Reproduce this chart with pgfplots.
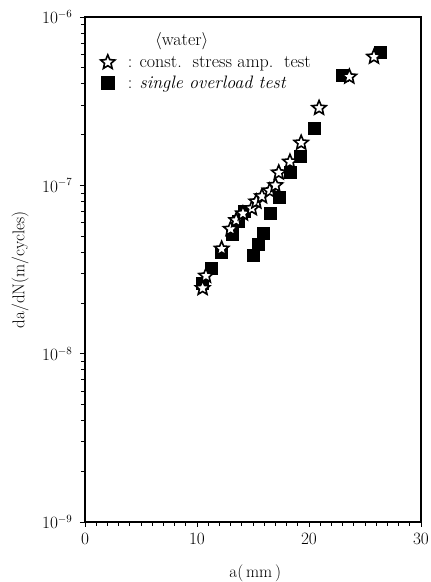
\documentclass[border=0pt]{standalone}
\usepackage{fontspec}
\usepackage{pgfplots}
\pgfplotsset{compat=1.18}
\usetikzlibrary{calc}
\pgfdeclareplotmark{ostar}{%
  \pgfpathmoveto{\pgfpointpolar{90}{\pgfplotmarksize}}%
  \pgfpathlineto{\pgfpointpolar{126}{0.45\pgfplotmarksize}}%
  \pgfpathlineto{\pgfpointpolar{162}{\pgfplotmarksize}}%
  \pgfpathlineto{\pgfpointpolar{198}{0.45\pgfplotmarksize}}%
  \pgfpathlineto{\pgfpointpolar{234}{\pgfplotmarksize}}%
  \pgfpathlineto{\pgfpointpolar{270}{0.45\pgfplotmarksize}}%
  \pgfpathlineto{\pgfpointpolar{306}{\pgfplotmarksize}}%
  \pgfpathlineto{\pgfpointpolar{342}{0.45\pgfplotmarksize}}%
  \pgfpathlineto{\pgfpointpolar{18}{\pgfplotmarksize}}%
  \pgfpathlineto{\pgfpointpolar{54}{0.45\pgfplotmarksize}}%
  \pgfpathclose
  \pgfusepathqfillstroke}
\begin{document}
\begin{tikzpicture}
\begin{semilogyaxis}[
  scale only axis, width=336pt, height=505pt,
  xmin=0, xmax=30, ymin=1e-9, ymax=1e-6,
  xtick={0,10,20,30}, minor x tick num=9,
  ytick={1e-9,1e-8,1e-7,1e-6},
  tick align=outside, xtick pos=left, ytick pos=left,
  major tick length=5pt, minor tick length=4pt,
  axis line style={line width=1.3pt},
  every tick/.style={line width=1pt, black},
  tick label style={font=\fontsize{16}{18}\selectfont},
  xticklabel style={yshift=-3pt},
  yticklabel style={xshift=-4pt},
  xlabel={a(\,mm\,)}, ylabel={da/dN(m/cycles)},
  xlabel style={font=\fontsize{17}{20}\selectfont, at={(axis description cs:0.507,-0.101)}, anchor=center},
  ylabel style={font=\fontsize{17}{20}\selectfont, at={(axis description cs:-0.193,0.5)}, anchor=center},
  legend style={draw=none, fill=none, at={(axis description cs:0.043,0.929)}, anchor=north west,
    font=\fontsize{18}{20}\selectfont, row sep=3pt, inner sep=1pt},
  legend cell align=left,
  legend image code/.code={\draw[#1] plot coordinates {(0.15cm,0cm)};},
  clip=false,
]
\addplot[only marks, mark=square*, mark size=6pt, mark options={fill=black, draw=black}, forget plot] coordinates {
(10.5,2.64e-8) (11.3,3.2e-8) (12.2,4.0e-8) (13.1,5.1e-8) (13.7,6.1e-8) (14.2,7.0e-8)
(15.0,3.85e-8) (15.5,4.5e-8) (15.9,5.2e-8) (16.5,6.8e-8) (17.3,8.5e-8) (18.3,1.2e-7)
(19.2,1.5e-7) (20.5,2.2e-7) (23.0,4.5e-7) (26.4,6.2e-7)
};
\addplot[only marks, mark=ostar, mark size=7.5pt, mark options={fill=white, draw=black, line width=1.6pt}] coordinates {
(10.5,2.45e-8) (10.8,2.9e-8) (12.2,4.2e-8) (13.0,5.5e-8) (13.5,6.2e-8) (14.1,6.8e-8)
(14.9,7.3e-8) (15.3,8.0e-8) (15.8,8.6e-8) (16.5,9.3e-8) (17.0,1.0e-7) (17.3,1.19e-7)
(18.3,1.38e-7) (19.3,1.79e-7) (20.9,2.88e-7) (23.6,4.42e-7) (25.8,5.8e-7)
};
\addlegendentry{\hspace{11pt}: const.\ \ stress amp.\ \ test}
\addlegendimage{only marks, mark=square*, mark size=6.5pt, mark options={fill=black, draw=black}}
\addlegendentry{\hspace{11pt}: \textit{single overload test}}
\node[font=\fontsize{18}{20}\selectfont] at (axis description cs:0.288,0.952) {$\langle$water$\rangle$};
\coordinate (bl) at (rel axis cs:0,0);
\coordinate (tr) at (rel axis cs:1,1);
\end{semilogyaxis}
\pgfresetboundingbox
\path[use as bounding box] ($(bl)+(-85pt,-60pt)$) rectangle ($(tr)+(9pt,17pt)$);
\end{tikzpicture}
\end{document}
